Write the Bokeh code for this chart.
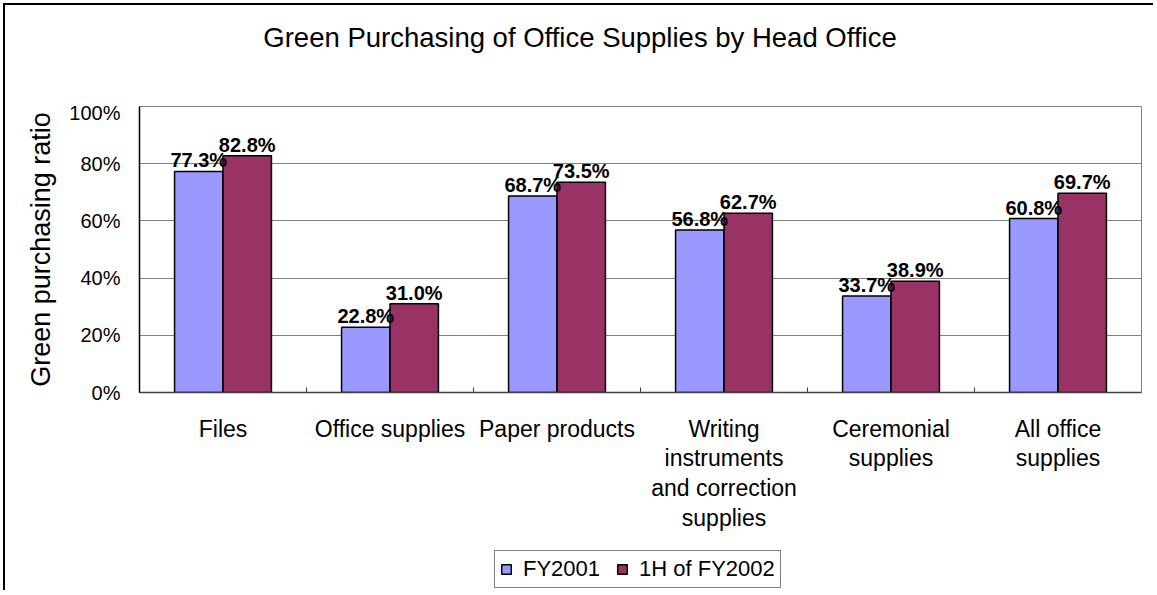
from bokeh.plotting import figure
from bokeh.layouts import column
from bokeh.models import (FactorRange, Range1d, FixedTicker, PrintfTickFormatter, ColumnDataSource,
                          Legend, LegendItem, Div, Title)
from bokeh.core.properties import value
from bokeh.transform import dodge
from bokeh.embed import file_html
from bokeh.resources import INLINE

# ---- data ----
categories = ["Files", "Office supplies", "Paper products",
              "Writing\ninstruments\nand correction\nsupplies",
              "Ceremonial\nsupplies", "All office\nsupplies"]
fy2001 = [77.3, 22.8, 68.7, 56.8, 33.7, 60.8]
fy2002_1h = [82.8, 31.0, 73.5, 62.7, 38.9, 69.7]
series_names = ["FY2001", "1H of FY2002"]
y_ticks = [0, 20, 40, 60, 80, 100]
title_text = "Green Purchasing of Office Supplies by Head Office"
y_title = "Green purchasing ratio"

FONT = "Liberation Sans"
C1 = "#9999FF"
C2 = "#993366"

src = ColumnDataSource(dict(
    cat=categories, a=fy2001, b=fy2002_1h,
    la=[f"{v:.1f}%" for v in fy2001], lb=[f"{v:.1f}%" for v in fy2002_1h],
))

title_div = Div(text=f'<div style="padding-top:13px;">{title_text}</div>',
                width=1150, height=96, margin=0,
                styles={"font-family": FONT, "font-size": "27.5px", "text-align": "center",
                        "color": "black", "background-color": "white"})

p = figure(x_range=FactorRange(*categories), y_range=Range1d(0, 100),
           width=1150, height=441, output_backend="svg", toolbar_location=None,
           min_border_left=134, min_border_top=5, min_border_right=14, min_border_bottom=150,
           title=None)
p.background_fill_color = "white"
p.border_fill_color = "white"
p.outline_line_color = "#808080"
p.outline_line_width = 1

bw = 0.29
bar_style = dict(width=bw, line_color="black", line_width=1.5)
r1 = p.vbar(x=dodge("cat", -0.145, range=p.x_range), top="a", source=src, fill_color=C1, **bar_style)
r2 = p.vbar(x=dodge("cat", 0.145, range=p.x_range), top="b", source=src, fill_color=C2, **bar_style)

lab_style = dict(text_align="center", text_baseline="alphabetic", y_offset=-11,
                 text_font=value(FONT), text_font_size="20px", text_font_style="bold",
                 text_color="black")
p.text(x=dodge("cat", -0.145, range=p.x_range), y="a", text="la", source=src, **lab_style)
p.text(x=dodge("cat", 0.145, range=p.x_range), y="b", text="lb", source=src, **lab_style)

# inward tick marks at category boundaries
bounds = list(range(1, len(categories)))
p.segment(x0=bounds, x1=bounds, y0=[0] * len(bounds), y1=[1.75] * len(bounds),
          line_color="#404040", line_width=1)

# axes
p.xgrid.grid_line_color = None
p.ygrid.grid_line_color = "#808080"
p.ygrid.grid_line_width = 1
p.yaxis.ticker = FixedTicker(ticks=y_ticks)
p.yaxis.formatter = PrintfTickFormatter(format="%d%%")
p.yaxis.major_tick_out = 0
p.yaxis.major_tick_in = 0
p.yaxis.minor_tick_out = 0
p.yaxis.minor_tick_in = 0
p.yaxis.axis_line_color = "black"
p.yaxis.axis_line_width = 1.5
p.yaxis.major_label_standoff = 19
p.yaxis.major_label_text_font = FONT
p.yaxis.major_label_text_font_size = "20px"
p.yaxis.major_label_text_color = "black"

p.add_layout(Title(text=y_title, align="center", standoff=22, vertical_align="bottom",
                   text_font=FONT, text_font_size="27px", text_font_style="normal",
                   text_color="black"), "left")

p.xaxis.major_tick_out = 0
p.xaxis.major_tick_in = 0
p.xaxis.axis_line_color = "#404040"
p.xaxis.axis_line_width = 1.5
p.xaxis.major_label_standoff = 23
p.xaxis.major_label_text_font = FONT
p.xaxis.major_label_text_font_size = "23px"
p.xaxis.major_label_text_color = "black"
p.xaxis.major_label_text_line_height = 1.15
p.xaxis.major_label_orientation = "horizontal"

# legend strip: a small figure whose frame holds the legend (its key renderers are hidden)
lg = figure(width=1150, height=50, output_backend="svg", toolbar_location=None,
            min_border=0, title=None, x_range=FactorRange(*categories), y_range=Range1d(0, 100),
            x_axis_type=None, y_axis_type=None)
lg.grid.visible = False
lg.outline_line_color = None
lg.background_fill_color = "white"
lg.border_fill_color = "white"
k1 = lg.vbar(x=dodge("cat", -0.145, range=lg.x_range), top="a", source=src, fill_color=C1,
             visible=False, **bar_style)
k2 = lg.vbar(x=dodge("cat", 0.145, range=lg.x_range), top="b", source=src, fill_color=C2,
             visible=False, **bar_style)
legend = Legend(items=[LegendItem(label=series_names[0], renderers=[k1]),
                       LegendItem(label=series_names[1], renderers=[k2])],
                orientation="horizontal", location=(355, 4),
                border_line_color="black", border_line_width=1, background_fill_color="white",
                label_text_font=FONT, label_text_font_size="22px", label_text_color="black",
                glyph_width=12, glyph_height=12, padding=5, spacing=16, label_standoff=11,
                margin=0, inactive_fill_alpha=0)
lg.add_layout(legend, "center")

layout = column(title_div, p, lg, spacing=0,
                styles={"margin-left": "5px", "margin-top": "5px",
                        "box-shadow": "-2px -2px 0 0 black"})

open("out.html", "w").write(file_html(layout, INLINE))
